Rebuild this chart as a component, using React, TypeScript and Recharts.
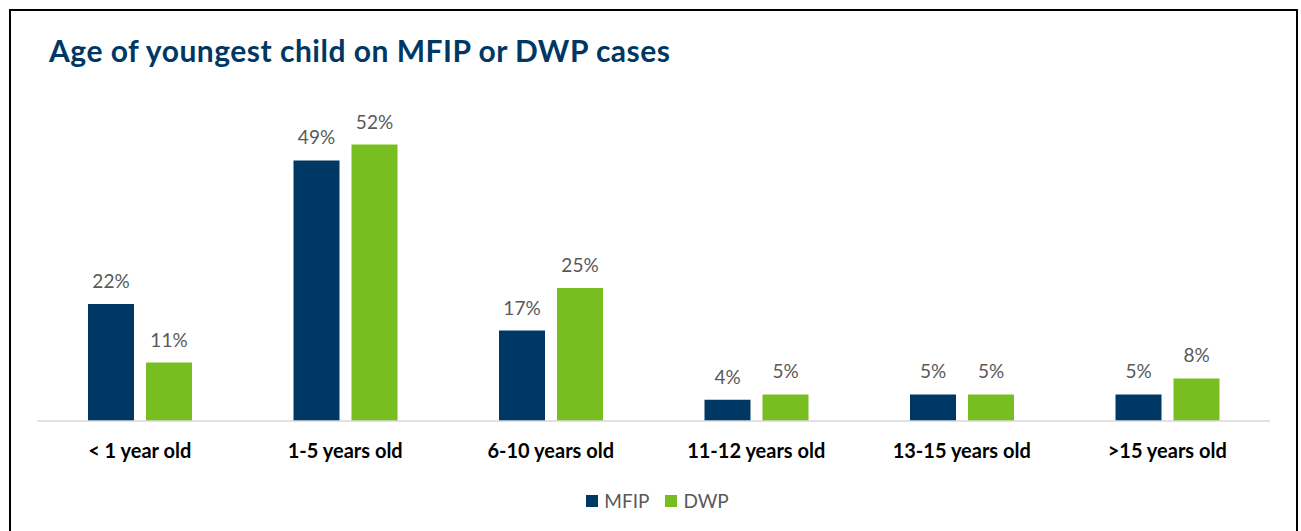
import React from 'react';
import { BarChart, Bar, XAxis, YAxis, Legend, LabelList } from 'recharts';

const categories = ['< 1 year old', '1-5 years old', '6-10 years old', '11-12 years old', '13-15 years old', '>15 years old'];
const mfipValues = [22, 49, 17, 4, 5, 5];
const dwpValues = [11, 52, 25, 5, 5, 8];
const yDomain = [0, 60];

const data = categories.map((c, i) => ({ category: c, MFIP: mfipValues[i], DWP: dwpValues[i] }));

const FONT = 'Lato, "Open Sans", sans-serif';

const renderLegend = (props: any) => {
  const items = props.payload || [];
  return (
    <div style={{ textAlign: 'center', fontFamily: FONT, fontSize: 19, lineHeight: '22px', color: '#595959' }}>
      {items.map((it: any, i: number) => (
        <span key={i} style={{ display: 'inline-flex', alignItems: 'center', marginLeft: i === 0 ? 0 : 16 }}>
          <span style={{ display: 'inline-block', width: 12, height: 12, background: it.color, marginRight: 6 }} />
          <span>{it.value}</span>
        </span>
      ))}
    </div>
  );
};

export default function App() {
  return (
    <div style={{ position: 'fixed', left: 0, top: 0, width: 1301, height: 531, overflow: 'hidden', background: '#fff', fontFamily: FONT }}>
      <div style={{ position: 'absolute', left: 9, top: 9, width: 1285, height: 600, border: '2px solid #000' }} />
      <div style={{ position: 'absolute', left: 49, top: 35, fontSize: 30, lineHeight: '30px', fontWeight: 700, color: '#003865', whiteSpace: 'nowrap', letterSpacing: 0.5 }}>
        Age of youngest child on MFIP or DWP cases
      </div>
      <div style={{ position: 'absolute', left: 0, top: 0 }}>
        <BarChart width={1301} height={531} data={data} margin={{ top: 102, right: 31, left: 37, bottom: 38 }} barSize={46} barGap={12}>
          <XAxis
            dataKey="category"
            axisLine={{ stroke: '#d9d9d9', strokeWidth: 1.5 }}
            tickLine={false}
            tickMargin={17}
            height={50}
            interval={0}
            tick={{ fontSize: 20, fontWeight: 700, fill: '#000', fontFamily: FONT }}
          />
          <YAxis hide domain={yDomain} />
          <Legend
            verticalAlign="bottom"
            itemSorter={null}
            content={renderLegend}
            wrapperStyle={{ top: 489, bottom: 'auto', left: 0, width: 1315, height: 22 }}
          />
          <Bar dataKey="MFIP" fill="#003865" isAnimationActive={false}>
            <LabelList dataKey="MFIP" position="top" offset={16} formatter={(v) => `${v}%`} style={{ fill: '#595959', fontSize: 19, fontFamily: FONT }} />
          </Bar>
          <Bar dataKey="DWP" fill="#78BE21" isAnimationActive={false}>
            <LabelList dataKey="DWP" position="top" offset={16} formatter={(v) => `${v}%`} style={{ fill: '#595959', fontSize: 19, fontFamily: FONT }} />
          </Bar>
        </BarChart>
      </div>
    </div>
  );
}
